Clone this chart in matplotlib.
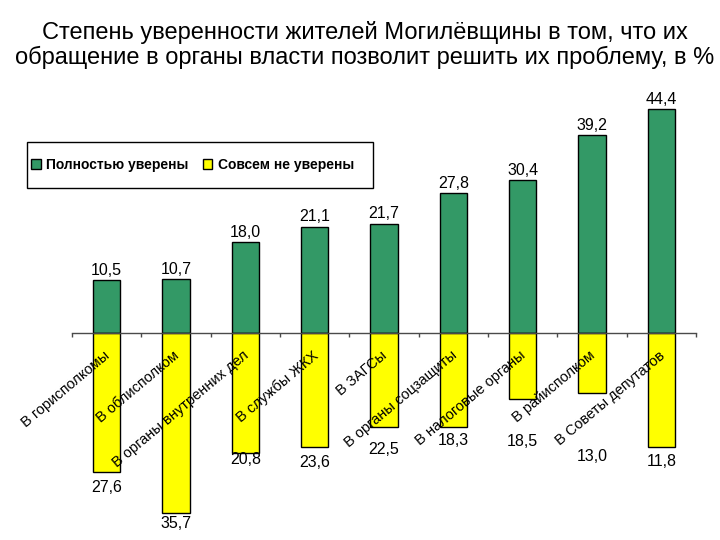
import matplotlib
matplotlib.use("Agg")
import matplotlib.pyplot as plt
import matplotlib.patches as mpatches
import matplotlib.transforms as mtransforms
import numpy as np

plt.rcParams['font.family'] = ['Liberation Sans', 'DejaVu Sans']

# ---------------- data ----------------
title = ("Степень уверенности жителей Могилёвщины в том, что их\n"
         "обращение в органы власти позволит решить их проблему, в %")
categories = ["В горисполкомы", "В облисполком", "В органы внутренних дел",
              "В службы ЖКХ", "В ЗАГСы", "В органы соцзащиты",
              "В налоговые органы", "В райисполком", "В Советы депутатов"]
series_names = ["Полностью уверены", "Совсем не уверены"]
fully_sure = [10.5, 10.7, 18.0, 21.1, 21.7, 27.8, 30.4, 39.2, 44.4]
fully_sure_labels = ["10,5", "10,7", "18,0", "21,1", "21,7", "27,8", "30,4", "39,2", "44,4"]
# bar lengths as drawn in the picture
not_sure = [27.6, 35.7, 23.7, 22.5, 18.6, 18.6, 13.1, 11.9, 22.5]
# labels as printed in the picture
not_sure_labels = ["27,6", "35,7", "20,8", "23,6", "22,5", "18,3", "18,5", "13,0", "11,8"]

# ---------------- styling ----------------
green = '#339966'
yellow = '#FFFF00'
axis_color = '#4a4a4a'
label_offsets_pt = [10.8, 7.2, 5.0, 11.5, 16.3, 9.9, 30.7, 46.0, 10.8]

fig = plt.figure(figsize=(7.2, 5.4), dpi=100)
ax = fig.add_axes([0.1, 0.0096, 0.8667, 0.8035])
ax.set_axisbelow(False)

x = np.arange(len(categories))
w = 0.39
ax.bar(x, fully_sure, width=w, color=green, edgecolor='black', linewidth=1, zorder=1)
ax.bar(x, [-v for v in not_sure], width=w, color=yellow, edgecolor='black', linewidth=1, zorder=1)

ax.set_xlim(-0.5, len(categories) - 0.5)
ax.set_ylim(-40, 46)

for s in ['top', 'right', 'left']:
    ax.spines[s].set_visible(False)
ax.spines['bottom'].set_position(('data', 0))
ax.spines['bottom'].set_color(axis_color)
ax.spines['bottom'].set_linewidth(1)
ax.spines['bottom'].set_zorder(3)
ax.yaxis.set_visible(False)

# boundary ticks (major), category labels (minor)
ax.set_xticks(np.arange(-0.5, len(categories), 1.0))
ax.set_xticklabels([])
ax.tick_params(axis='x', which='major', direction='out', length=3, width=1, color=axis_color)
ax.set_xticks(x, minor=True)
ax.set_xticklabels(categories, minor=True, rotation=40, ha='right', va='top',
                   rotation_mode='anchor', fontsize=10.5)
ax.tick_params(axis='x', which='minor', length=0, pad=11)
shift = mtransforms.ScaledTranslation(-3 / 100, 0, fig.dpi_scale_trans)
for lbl in ax.get_xticklabels(minor=True):
    lbl.set_transform(lbl.get_transform() + shift)

for xi, v, t in zip(x, fully_sure, fully_sure_labels):
    ax.annotate(t, (xi, v), xytext=(0, 1.5), textcoords='offset points',
                ha='center', va='bottom', fontsize=11.5)
for xi, v, t, off in zip(x, not_sure, not_sure_labels, label_offsets_pt):
    ax.annotate(t, (xi, -v), xytext=(0, -off), textcoords='offset points',
                ha='center', va='center', fontsize=11.5)

fig.text(0.507, 1 - 45 / 540, title, ha='center', va='center', fontsize=17,
         linespacing=1.15, multialignment='center')

# legend
fig.patches.append(mpatches.Rectangle((27 / 720, 1 - 188 / 540), 346 / 720, 46 / 540,
                                      transform=fig.transFigure, fill=False,
                                      edgecolor='black', linewidth=1))
handles = [mpatches.Patch(facecolor=green, edgecolor='black', linewidth=1),
           mpatches.Patch(facecolor=yellow, edgecolor='black', linewidth=1)]
fig.legend(handles, series_names, loc='center left', bbox_to_anchor=(31 / 720, 1 - 165 / 540),
           ncol=2, frameon=False, borderpad=0, borderaxespad=0, handlelength=0.7,
           handleheight=0.7, handletextpad=0.4, columnspacing=1.0,
           prop={'size': 10, 'weight': 'bold'})

fig.savefig('out.png', dpi=100)
